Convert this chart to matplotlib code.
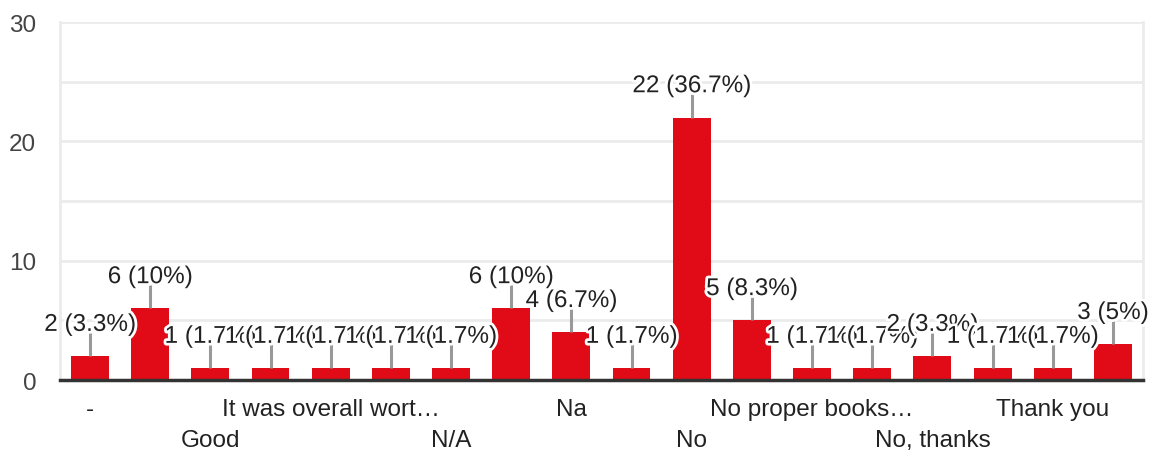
import matplotlib.pyplot as plt
import matplotlib.patheffects as pe
import numpy as np

plt.rcParams['font.family'] = ['Liberation Sans', 'DejaVu Sans']

# categories (only every other one is labelled in the chart)
categories = ["-", "", "Good", "", "It was overall wort\u2026", "", "N/A", "",
              "Na", "", "No", "", "No proper books\u2026", "", "No, thanks", "",
              "Thank you", ""]
counts = [2, 6, 1, 1, 1, 1, 1, 6, 4, 1, 22, 5, 1, 1, 2, 1, 1, 3]
value_labels = ["2 (3.3%)", "6 (10%)", "1 (1.7%)", "1 (1.7%)", "1 (1.7%)",
                "1 (1.7%)", "1 (1.7%)", "6 (10%)", "4 (6.7%)", "1 (1.7%)",
                "22 (36.7%)", "5 (8.3%)", "1 (1.7%)", "1 (1.7%)", "2 (3.3%)",
                "1 (1.7%)", "1 (1.7%)", "3 (5%)"]
yticks = [0, 10, 20, 30]

red = "#e00b16"
fig = plt.figure(figsize=(11.53, 4.52), dpi=100)
ax = fig.add_axes([0.052, 0.157, 0.9393, 0.792])

x = np.arange(len(counts))
ax.bar(x, counts, width=0.63, color=red, zorder=3)

ax.set_xlim(-0.5, len(counts) - 0.5)
ax.set_ylim(0, 30)
ax.set_yticks(yticks)
ax.set_yticks(np.arange(0, 31, 5), minor=True)
ax.grid(axis='y', which='both', color='#ebebeb', linewidth=2, zorder=0)
ax.tick_params(axis='y', which='both', length=0, labelsize=17.5, labelcolor='#444444', pad=17)

for s in ['left', 'right', 'top']:
    ax.spines[s].set_color('#ebebeb')
    ax.spines[s].set_linewidth(2)
ax.spines['top'].set_visible(False)
ax.spines['bottom'].set_color('#333333')
ax.spines['bottom'].set_linewidth(2.5)
ax.spines['bottom'].set_zorder(5)

# leader lines and value labels
for i, (v, lab) in enumerate(zip(counts, value_labels)):
    ax.plot([i, i], [v, v + 2.0], color='#999999', linewidth=2.2, zorder=4,
            solid_capstyle='butt')
    t = ax.text(i, v + 1.7, lab, ha='center', va='bottom', fontsize=17.5,
                color='#222222', zorder=6)
    t.set_path_effects([pe.withStroke(linewidth=4, foreground='white')])

# alternating two-row category labels
ticklabels = []
for i, c in enumerate(categories):
    if i % 4 == 2:
        ticklabels.append("\n" + c)
    else:
        ticklabels.append(c)
ax.set_xticks(x)
ax.set_xticklabels(ticklabels, fontsize=17.5, color='#222222', linespacing=1.5)
ax.tick_params(axis='x', length=0, pad=13)

fig.savefig("out.png", dpi=100)
